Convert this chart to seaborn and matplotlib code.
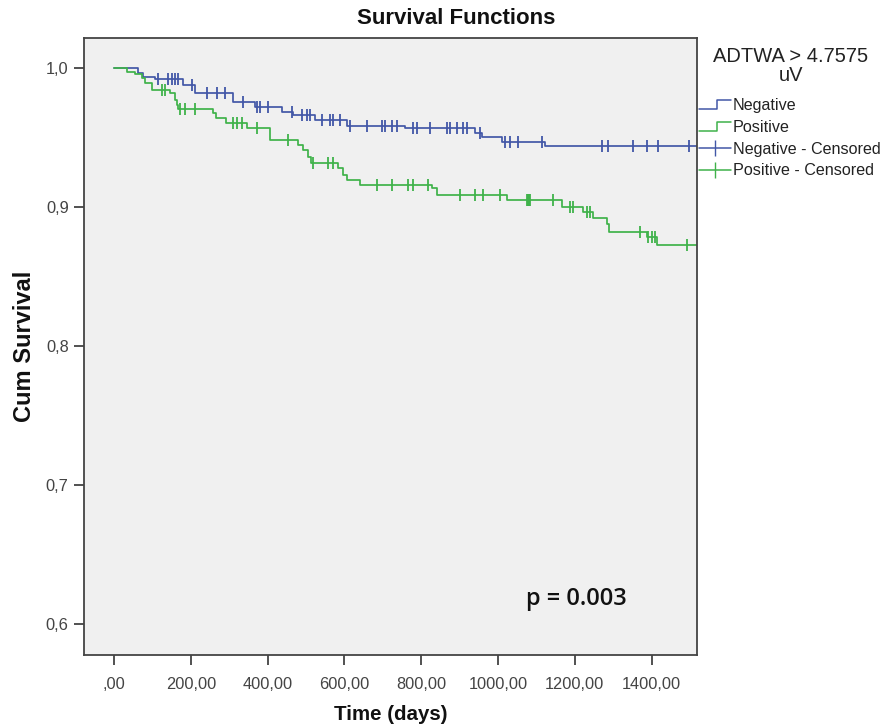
import numpy as np
import pandas as pd
import matplotlib
matplotlib.use("Agg")
import matplotlib.pyplot as plt
import seaborn as sns
from matplotlib.legend_handler import HandlerBase
from matplotlib.lines import Line2D

# ---------------- data ----------------
neg_event_times = [62, 75, 107, 180, 211, 310, 367, 437, 466, 523, 607, 758, 940, 958, 1010, 1122]
neg_surv = [0.9966, 0.9937, 0.9921, 0.9878, 0.9818, 0.9758, 0.9722, 0.9686, 0.9662,
            0.9626, 0.9583, 0.9566, 0.9532, 0.9506, 0.9470, 0.9441]
neg_cens_times = [115, 141, 151, 159, 167, 203, 242, 268, 289, 336, 372, 380, 401, 464,
                  490, 503, 510, 542, 562, 570, 589, 615, 659, 698, 706, 724, 737, 779,
                  789, 823, 867, 875, 893, 909, 919, 953, 1018, 1031, 1052, 1115, 1271,
                  1286, 1352, 1388, 1417, 1497]

pos_event_times = [34, 55, 73, 81, 99, 146, 159, 164, 167, 258, 266, 292, 346, 406, 479,
                   492, 505, 513, 583, 596, 607, 641, 828, 841, 1023, 1167, 1221, 1247,
                   1284, 1289, 1388, 1414]
pos_surv = [0.9973, 0.9958, 0.9928, 0.9890, 0.9842, 0.9818, 0.9770, 0.9734, 0.9705,
            0.9674, 0.9638, 0.9604, 0.9566, 0.9482, 0.9446, 0.9410, 0.9360, 0.9317,
            0.9278, 0.9230, 0.9194, 0.9158, 0.9135, 0.9086, 0.9050, 0.9002, 0.8966,
            0.8919, 0.8878, 0.8822, 0.8786, 0.8727]
pos_cens_times = [125, 133, 172, 185, 211, 310, 320, 333, 372, 453, 518, 557, 570, 685,
                  724, 766, 779, 818, 901, 940, 961, 1005, 1075, 1078, 1081, 1083, 1143,
                  1188, 1195, 1232, 1240, 1370, 1391, 1401, 1409, 1492]

groups = ["Negative", "Positive"]
colors = {"Negative": "#4257a7", "Positive": "#3fb24a"}
legend_title = "ADTWA > 4.7575\nuV"
x_ticks = [0, 200, 400, 600, 800, 1000, 1200, 1400]
x_ticklabels = [",00", "200,00", "400,00", "600,00", "800,00", "1000,00", "1200,00", "1400,00"]
y_ticks = [0.6, 0.7, 0.8, 0.9, 1.0]
y_ticklabels = ["0,6", "0,7", "0,8", "0,9", "1,0"]
p_text = "p = 0.003"
END_TIME = 1540


def km_frames(name, ev_t, ev_s, cens_t):
    t = np.array([0] + ev_t + [END_TIME], dtype=float)
    s = np.array([1.0] + ev_s + [ev_s[-1]], dtype=float)
    curve = pd.DataFrame({"time": t, "surv": s, "group": name})
    idx = np.searchsorted(t, np.array(cens_t, dtype=float), side="right") - 1
    cens = pd.DataFrame({"time": cens_t, "surv": s[idx], "group": name})
    return curve, cens


neg_curve, neg_cens = km_frames("Negative", neg_event_times, neg_surv, neg_cens_times)
pos_curve, pos_cens = km_frames("Positive", pos_event_times, pos_surv, pos_cens_times)

# ---------------- figure ----------------
sns.set_theme(style="white")
plt.rcParams["font.family"] = ["Liberation Sans", "DejaVu Sans"]

W, H = 884, 725
fig = plt.figure(figsize=(W / 100, H / 100), dpi=100)
fig.patch.set_facecolor("white")
ax = fig.add_axes([84 / W, 1 - 655 / H, (697 - 84) / W, (655 - 38) / H])
ax.set_facecolor("#f0f0f0")

for curve, cens in [(neg_curve, neg_cens), (pos_curve, pos_cens)]:
    g = curve["group"].iloc[0]
    sns.lineplot(data=curve, x="time", y="surv", ax=ax, color=colors[g],
                 drawstyle="steps-post", estimator=None, sort=False, lw=1.25,
                 legend=False)
    sns.scatterplot(data=cens, x="time", y="surv", ax=ax, color=colors[g],
                    marker="|", s=85, linewidth=1.3, legend=False, zorder=3)

ax.set_xlim(-78, 1518)
ax.set_ylim(0.578, 1.0216)
ax.set_xticks(x_ticks)
ax.set_xticklabels(x_ticklabels)
ax.set_yticks(y_ticks)
ax.set_yticklabels(y_ticklabels)
ax.tick_params(axis="both", direction="out", length=7, width=1.2, color="#333333",
               labelsize=11.8, labelcolor="#444444", pad=4, bottom=True, left=True)
ax.tick_params(axis="x", pad=9)
for sp in ax.spines.values():
    sp.set_color("#444444")
    sp.set_linewidth(1.3)

ax.set_xlabel("Time (days)", fontsize=14.8, fontweight="bold", color="#111111", labelpad=9)
ax.set_ylabel("Cum Survival", fontsize=17, fontweight="bold", color="#111111", labelpad=7)

fig.text(456 / W, 1 - 19 / H, "Survival Functions", ha="center", va="center",
         fontsize=16, fontweight="bold", color="#111111")

fig.text(576 / W, 1 - 599 / H, p_text, ha="center", va="center",
         fontsize=17, fontweight="semibold", family=["Open Sans", "DejaVu Sans"],
         color="#111111")


class StepHandler(HandlerBase):
    def create_artists(self, legend, orig_handle, xdescent, ydescent, width, height,
                       fontsize, trans):
        x0, x1 = -xdescent, -xdescent + width
        xm = x0 + width * 0.55
        y0, y1 = -ydescent + height * 0.1, -ydescent + height * 0.9
        ln = Line2D([x0, xm, xm, x1], [y0, y0, y1, y1], color=orig_handle.get_color(),
                    lw=1.1, transform=trans)
        return [ln]


handles = [
    Line2D([], [], color=colors["Negative"]),
    Line2D([], [], color=colors["Positive"]),
    Line2D([], [], color=colors["Negative"], marker="|", markersize=12, lw=1.1),
    Line2D([], [], color=colors["Positive"], marker="|", markersize=12, lw=1.1),
]
labels = ["Negative", "Positive", "Negative - Censored", "Positive - Censored"]
leg = fig.legend(handles, labels, loc="upper left", bbox_to_anchor=(699 / W, 1 - 98 / H),
                 frameon=False, fontsize=11.6, borderaxespad=0,
                 handlelength=2.0, handletextpad=0.1, labelspacing=0.42, borderpad=0,
                 handler_map={handles[0]: StepHandler(), handles[1]: StepHandler()})
for t in leg.get_texts():
    t.set_color("#222222")

fig.text(791 / W, 1 - 66 / H, legend_title, ha="center", va="center", fontsize=14.5,
         color="#222222", linespacing=0.95, multialignment="center")

fig.savefig("out.png", dpi=100, facecolor="white")
